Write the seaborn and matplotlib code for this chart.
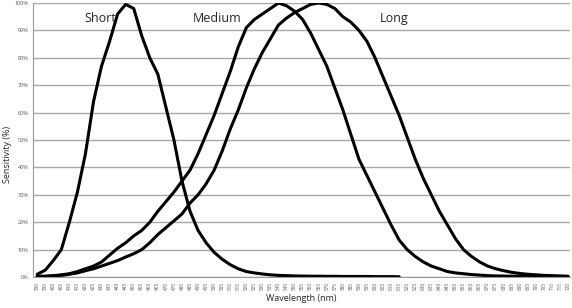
import matplotlib
matplotlib.use("Agg")
import matplotlib.pyplot as plt
import seaborn as sns
import pandas as pd

# Longueurs d'onde (nm), pas de 5
wavelengths = list(range(390, 725, 5))

# Sensibilité des cônes (%)
short = [1, 2.5, 6, 10, 20, 31, 45, 64, 77, 86, 96, 99.5, 98, 88, 80, 74, 62, 50,
         35, 24, 17, 12.5, 9, 6.5, 4.5, 3, 2, 1.5, 1.1, 0.8, 0.6, 0.5, 0.4, 0.35,
         0.3, 0.3, 0.25, 0.25, 0.2, 0.2, 0.2, 0.2, 0.15, 0.15, 0.15, 0.1]
medium = [0.3, 0.3, 0.5, 0.8, 1.2, 2, 3, 4, 5.5, 8, 10.5, 12.5, 15, 17, 20, 24,
          27.5, 31, 35, 39, 45, 52, 59, 67, 75, 84, 91, 94, 96, 98, 100, 99, 97,
          94, 89, 83, 77, 69, 61, 52, 43, 37, 31, 25, 19, 13.5, 10, 7.5, 5.5, 4,
          3, 2, 1.5, 1.2, 0.9, 0.7, 0.5, 0.4, 0.35, 0.3, 0.25, 0.2, 0.2, 0.15,
          0.15, 0.1, 0.1]
long = [0.2, 0.2, 0.4, 0.6, 1, 1.5, 2.3, 3, 4, 5, 6, 7.3, 8.5, 10, 12.5, 15.5,
        18, 20.5, 23, 27, 30, 34, 39, 46, 54, 61, 69, 76, 82, 87, 92, 94.5, 96.5,
        98, 99.5, 100, 99.5, 98, 95, 93, 90, 86, 80, 73, 66, 59, 51, 43, 36, 30,
        24, 19, 14, 10, 7.5, 5.5, 4, 3, 2.3, 1.7, 1.3, 1, 0.8, 0.6, 0.5, 0.4, 0.3]

labels = ["Short", "Medium", "Long"]

frames = []
for name, vals in zip(labels, [short, medium, long]):
    frames.append(pd.DataFrame({"wl": wavelengths[:len(vals)], "sens": vals, "cone": name}))
df = pd.concat(frames, ignore_index=True)

sns.set_style("white")
plt.rcParams['font.family'] = ['Open Sans', 'DejaVu Sans']

fig = plt.figure(figsize=(5.72, 3.08), dpi=100)
ax = fig.add_axes([0.058, 0.1006, 0.9385, 0.8896])

sns.lineplot(data=df, x="wl", y="sens", hue="cone", palette=["black"] * 3,
             linewidth=2.2, legend=False, ax=ax, sort=False)

ax.set_xlim(387.5, 721.2)
ax.set_ylim(0, 100)

ax.set_yticks(range(0, 101, 10))
ax.set_yticklabels([f"{v}%" for v in range(0, 101, 10)], fontsize=4, color="#555555")
ax.set_xticks(wavelengths)
ax.set_xticklabels([str(w) for w in wavelengths], rotation=90, fontsize=3.3, color="#555555")
ax.tick_params(axis="x", length=2, width=0.5, color="#999999", pad=1.5)
ax.tick_params(axis="y", length=2, width=0.5, color="#999999", pad=1.5)

ax.grid(axis="y", color="#a8a8a8", linewidth=1)
ax.set_axisbelow(True)
for side in ["top", "right"]:
    ax.spines[side].set_visible(False)
for side in ["left", "bottom"]:
    ax.spines[side].set_color("#999999")
    ax.spines[side].set_linewidth(0.8)

ax.set_xlabel("Wavelength (nm)", fontsize=6.5, labelpad=3)
ax.set_ylabel("")
fig.text(0.013, 0.5, "Sensitivity (%)", fontsize=6.5, rotation=90, ha="center", va="center")

# Étiquettes des courbes
ax.text(429, 94.5, "Short", fontsize=9, ha="center", va="center")
ax.text(502, 94.5, "Medium", fontsize=9, ha="center", va="center")
ax.text(612, 94.5, "Long", fontsize=9, ha="center", va="center")

fig.savefig("out.png", dpi=100)
